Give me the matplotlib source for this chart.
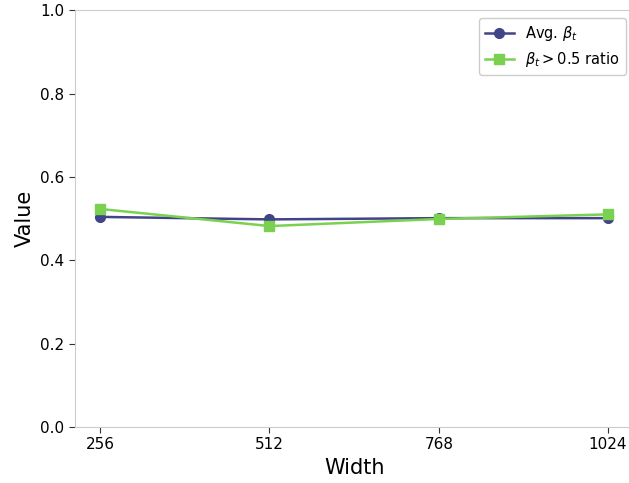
import matplotlib
matplotlib.use("Agg")
import matplotlib.pyplot as plt

# ---------- DATA ----------
widths = [256, 512, 768, 1024]
avg_beta = [0.504, 0.498, 0.501, 0.501]
ratio_beta = [0.523, 0.482, 0.499, 0.510]

# ---------- PLOT ----------
fig, ax = plt.subplots(figsize=(6.29, 4.83), dpi=100)

ax.plot(widths, avg_beta, marker="o", color="#414487", lw=1.8, ms=7,
        label=r"Avg. $\beta_t$")
ax.plot(widths, ratio_beta, marker="s", color="#7ad151", lw=1.8, ms=7,
        label=r"$\beta_t > 0.5$ ratio")

ax.set_xticks(widths)
ax.set_xticklabels([str(w) for w in widths])
ax.set_ylim(0, 1.0)
ax.set_xlabel("Width", fontsize=15)
ax.set_ylabel("Value", fontsize=15)
ax.tick_params(labelsize=11, length=4, color="#333333")

for side in ["left", "bottom", "top"]:
    ax.spines[side].set_color("#cccccc")
ax.spines["right"].set_visible(False)

ax.legend(loc="upper right", fontsize=10.5, framealpha=1, edgecolor="#cccccc",
          borderaxespad=0, bbox_to_anchor=(0.995, 0.963),
          bbox_transform=fig.transFigure)

fig.subplots_adjust(left=0.119, right=1.007, top=0.979, bottom=0.116)
fig.savefig("out.png", dpi=100)
